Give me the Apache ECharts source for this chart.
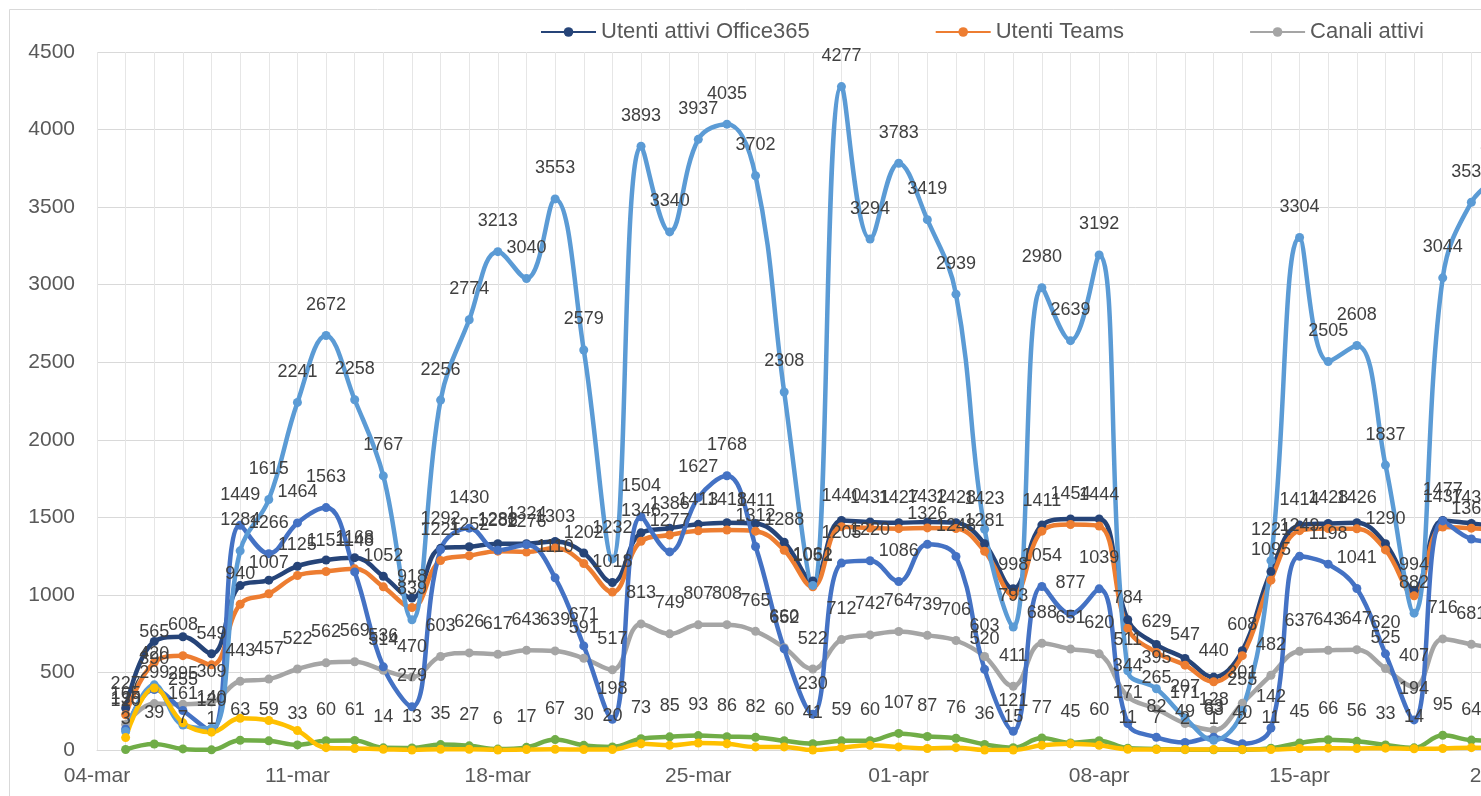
<!DOCTYPE html>
<html>
<head>
<meta charset="utf-8">
<script src="https://cdn.jsdelivr.net/npm/echarts@6/dist/echarts.min.js"></script>
<style>
html, body { margin: 0; padding: 0; background: #fff; }
#main { width: 1481px; height: 796px; }
</style>
</head>
<body>
<div id="main"></div>
<script>
// giorni sull'asse x (04-mar .. 22-apr)
var giorni = ['04-mar','05-mar','06-mar','07-mar','08-mar','09-mar','10-mar','11-mar','12-mar','13-mar',
  '14-mar','15-mar','16-mar','17-mar','18-mar','19-mar','20-mar','21-mar','22-mar','23-mar',
  '24-mar','25-mar','26-mar','27-mar','28-mar','29-mar','30-mar','31-mar','01-apr','02-apr',
  '03-apr','04-apr','05-apr','06-apr','07-apr','08-apr','09-apr','10-apr','11-apr','12-apr',
  '13-apr','14-apr','15-apr','16-apr','17-apr','18-apr','19-apr','20-apr','21-apr','22-apr'];

var utentiOffice = [null, 270, 700, 730, 620, 1060, 1095, 1185, 1225, 1240, 1120, 980, 1300, 1310, 1330, 1330, 1345, 1270, 1080, 1400,
  1430, 1455, 1465, 1460, 1340, 1090, 1480, 1470, 1465, 1470, 1465, 1330, 1040, 1450, 1490, 1490, 840, 680, 590, 470,
  640, 1150, 1450, 1460, 1465, 1330, 1030, 1480, 1460, 1440];

var utentiTeams = [null, 227, 565, 608, 549, 940, 1007, 1125, 1151, 1168, 1052, 918, 1221, 1252, 1282, 1276, 1303, 1202, 1018, 1346,
  1386, 1413, 1418, 1411, 1288, 1052, 1440, 1431, 1427, 1432, 1428, 1281, 998, 1411, 1454, 1444, 784, 629, 547, 440,
  608, 1095, 1414, 1428, 1426, 1290, 994, 1437, 1430, 1420];

var canaliAttivi = [null, 165, 299, 295, 309, 443, 457, 522, 562, 569, 514, 470, 603, 626, 617, 643, 639, 591, 517, 813,
  749, 807, 808, 765, 660, 522, 712, 742, 764, 739, 706, 603, 411, 688, 651, 620, 344, 265, 171, 128,
  301, 482, 637, 643, 647, 525, 407, 716, 681, 650];

var messaggiChat = [null, 120, 420, 161, 140, 1284, 1615, 2241, 2672, 2258, 1767, 839, 2256, 2774, 3213, 3040, 3553, 2579, 1232, 3893,
  3340, 3937, 4035, 3702, 2308, 1061, 4277, 3294, 3783, 3419, 2939, 1423, 793, 2980, 2639, 3192, 511, 395, 207, 63,
  255, 1221, 3304, 2505, 2608, 1837, 882, 3044, 3531, 3700];

var messaggiCanale = [null, 135, 390, 255, 120, 1449, 1266, 1464, 1563, 1148, 536, 279, 1292, 1430, 1288, 1324, 1110, 671, 198, 1504,
  1277, 1627, 1768, 1312, 652, 230, 1205, 1220, 1086, 1326, 1248, 520, 121, 1054, 877, 1039, 171, 82, 49, 83,
  40, 142, 1249, 1198, 1041, 620, 194, 1477, 1360, 1340];

var chiamate = [null, 3, 39, 7, 1, 63, 59, 33, 60, 61, 14, 13, 35, 27, 6, 17, 67, 30, 20, 73,
  85, 93, 86, 82, 60, 41, 59, 60, 107, 87, 76, 36, 15, 77, 45, 60, 11, 7, 2, 1,
  2, 11, 45, 66, 56, 33, 14, 95, 64, 60];

var riunioni = [null, 80, 400, 175, 115, 205, 190, 125, 15, 10, 5, 0, 5, 5, 0, 3, 5, 3, 3, 40,
  30, 45, 40, 20, 20, 0, 15, 30, 20, 10, 15, 0, 0, 30, 40, 30, 5, 3, 3, 3,
  3, 3, 10, 12, 10, 12, 8, 10, 15, 10];

var myChart = echarts.init(document.getElementById('main'));

var font = 'Liberation Sans';

// etichette sopra i punti
function etichetta() {
    return {
        show: true,
        position: 'top',
        distance: 17,
        fontFamily: font,
        fontSize: 18,
        color: '#404040'
    };
}

function serie(nome, dati, colore, conLabel) {
    return {
        name: nome,
        type: 'line',
        data: dati,
        smooth: 0.4,
        symbol: 'circle',
        symbolSize: 9,
        connectNulls: false,
        lineStyle: { width: 4.5, color: colore },
        itemStyle: { color: colore },
        label: conLabel ? etichetta() : { show: false },
        emphasis: { disabled: true }
    };
}

var option = {
    backgroundColor: '#ffffff',
    animation: false,
    graphic: [{
        type: 'rect',
        left: 7, top: 7,
        shape: { width: 1520, height: 800 },
        style: { fill: 'none', stroke: '#d9d9d9', lineWidth: 1 },
        silent: true
    }],
    legend: {
        data: ['Utenti attivi Office365', 'Utenti Teams', 'Canali attivi'],
        left: 535,
        top: 16,
        itemWidth: 55,
        itemHeight: 12,
        itemGap: 125,
        textStyle: { fontFamily: font, fontSize: 22, color: '#595959' }
    },
    grid: {
        left: 97,
        top: 52,
        bottom: 46,
        width: 1403,
        outerBoundsMode: 'none',
        containLabel: false
    },
    xAxis: {
        type: 'category',
        data: giorni,
        boundaryGap: false,
        axisLine: { show: true, lineStyle: { color: '#d9d9d9' } },
        axisTick: { show: false },
        axisLabel: {
            interval: 6,
            margin: 16,
            fontFamily: font,
            fontSize: 21,
            color: '#595959'
        },
        splitLine: { show: true, interval: 0, lineStyle: { color: '#e6e6e6' } }
    },
    yAxis: {
        type: 'value',
        min: 0,
        max: 4500,
        interval: 500,
        axisLine: { show: false },
        axisTick: { show: false },
        axisLabel: {
            margin: 22,
            fontFamily: font,
            fontSize: 21,
            color: '#595959',
            formatter: function (v) { return String(v); }
        },
        splitLine: { lineStyle: { color: '#d9d9d9' } }
    },
    series: [
        serie('Utenti attivi Office365', utentiOffice, '#264478', false),
        serie('Utenti Teams', utentiTeams, '#ED7D31', true),
        serie('Canali attivi', canaliAttivi, '#A5A5A5', true),
        serie('Messaggi nei canali', messaggiCanale, '#4472C4', true),
        serie('Messaggi chat privati', messaggiChat, '#5B9BD5', true),
        serie('Chiamate', chiamate, '#70AD47', true),
        serie('Riunioni', riunioni, '#FFC000', false)
    ]
};

myChart.setOption(option);
</script>
</body>
</html>
